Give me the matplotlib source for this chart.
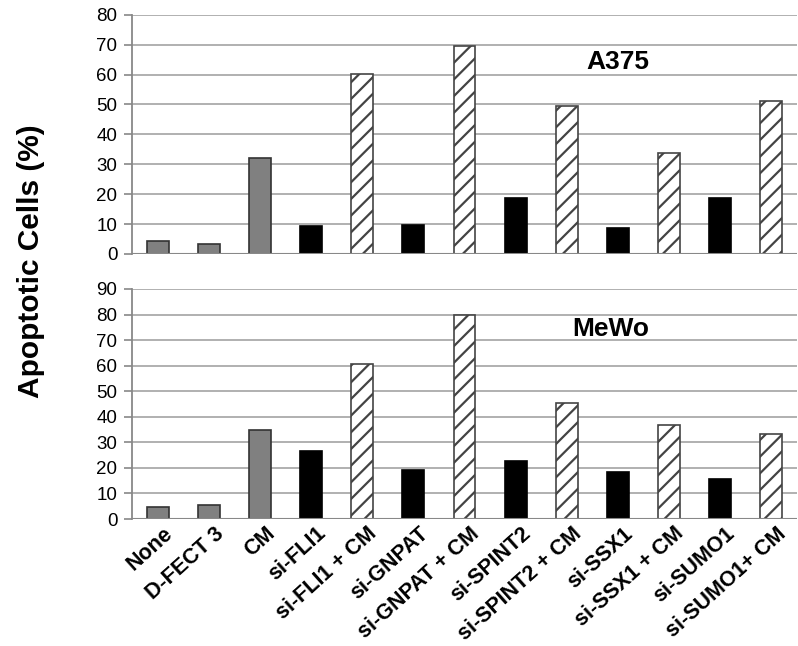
import matplotlib
matplotlib.use("Agg")
import matplotlib.pyplot as plt
import numpy as np

plt.rcParams['font.family'] = ['Liberation Sans', 'DejaVu Sans']
plt.rcParams['hatch.linewidth'] = 1.6
plt.rcParams['hatch.color'] = '#666666'

categories = ["None", "D-FECT 3", "CM", "si-FLI1", "si-FLI1 + CM", "si-GNPAT",
              "si-GNPAT + CM", "si-SPINT2", "si-SPINT2 + CM", "si-SSX1",
              "si-SSX1 + CM", "si-SUMO1", "si-SUMO1+ CM"]
a375 = [4.3, 3.3, 32.1, 9.3, 60.2, 9.7, 69.7, 18.8, 49.4, 8.7, 33.9, 18.8, 51.2]
mewo = [4.6, 5.6, 34.8, 26.5, 60.5, 19.3, 79.7, 22.6, 45.5, 18.3, 36.9, 15.6, 33.1]
kinds = ["ctrl", "ctrl", "ctrl", "si", "cm", "si", "cm", "si", "cm", "si", "cm", "si", "cm"]

fig = plt.figure(figsize=(7.98, 6.46), dpi=100)
ax1 = fig.add_axes([132/798, 1-254/646, 665/798, 239.3/646])
ax2 = fig.add_axes([132/798, 1-519/646, 665/798, 230/646])

x = np.arange(len(categories))
styles = {
    "ctrl": dict(color="#808080", edgecolor="#333333", hatch=None),
    "si": dict(color="#000000", edgecolor="#000000", hatch=None),
    "cm": dict(color="white", edgecolor="#444444", hatch="//"),
}

def draw(ax, vals, ymax, title, tx, ty):
    for xi, v, k in zip(x, vals, kinds):
        s = styles[k]
        ax.bar(xi, v, width=0.43, color=s["color"], edgecolor=s["edgecolor"],
               hatch=s["hatch"], linewidth=1.2, zorder=3)
    ax.set_xlim(-0.5, len(categories) - 0.5)
    ax.set_ylim(0, ymax)
    ax.set_yticks(np.arange(0, ymax + 1, 10))
    ax.yaxis.grid(True, color="#aaaaaa", linewidth=1.3, zorder=0)
    ax.set_axisbelow(True)
    for sp in ["top", "right", "bottom"]:
        ax.spines[sp].set_visible(False)
    ax.spines["left"].set_color("#888888")
    ax.spines["left"].set_linewidth(1.3)
    ax.axhline(0, color="#888888", linewidth=1.5, zorder=4)
    ax.tick_params(axis="y", labelsize=13.5, length=5.5, width=1.2,
                   color="#888888", pad=5)
    ax.tick_params(axis="x", length=0)
    ax.text(tx, ty, title, transform=fig.transFigure, ha="center", va="center",
            fontsize=19, fontweight="bold")

draw(ax1, a375, 80, "A375", 618/798, 1-62/646)
draw(ax2, mewo, 90, "MeWo", 611/798, 1-329/646)

ax1.set_xticks(x)
ax1.set_xticklabels([])
ax2.set_xticks(x + 0.1)
ax2.set_xticklabels(categories, rotation=42, ha="right", rotation_mode="anchor",
                    fontsize=15.5, fontweight="bold")
ax2.tick_params(axis="x", pad=3)

fig.text(31/798, 1-261/646, "Apoptotic Cells (%)", rotation=90, ha="center",
         va="center", fontsize=21.5, fontweight="bold")

fig.savefig("out.png", dpi=100)
